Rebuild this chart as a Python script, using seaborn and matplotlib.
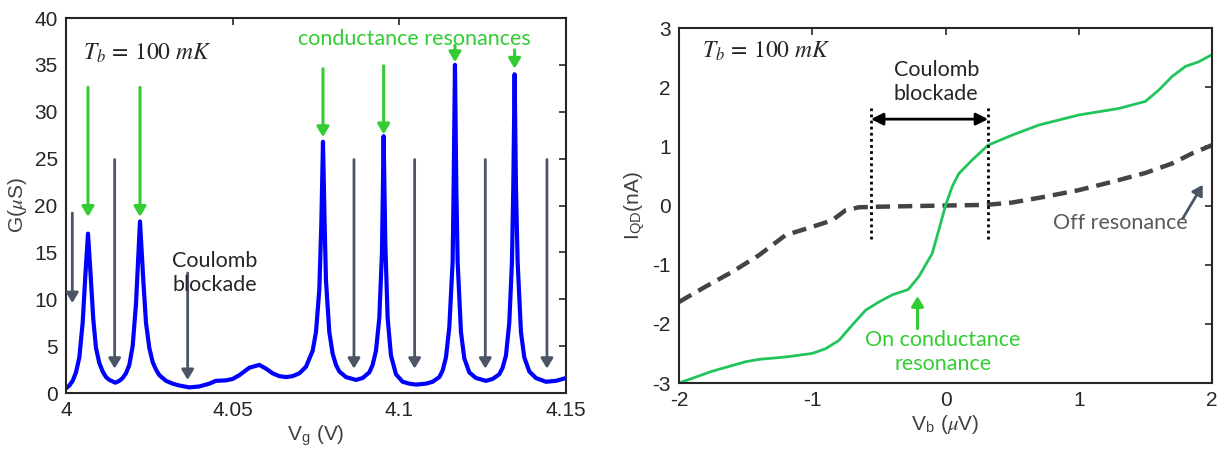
import matplotlib
matplotlib.use("Agg")
import matplotlib.pyplot as plt
import seaborn as sns
import pandas as pd

# left panel: conductance vs gate voltage
vg = [4.000, 4.001, 4.002, 4.003, 4.004, 4.005, 4.0058, 4.0066, 4.0074, 4.0082,
      4.009, 4.010, 4.011, 4.012, 4.013, 4.0148, 4.016, 4.017, 4.018, 4.019,
      4.020, 4.021, 4.0222, 4.0232, 4.024, 4.025, 4.026, 4.027, 4.028, 4.030,
      4.032, 4.034, 4.037, 4.040, 4.043, 4.045, 4.048, 4.050, 4.052, 4.055,
      4.058, 4.060, 4.062, 4.064, 4.066, 4.068, 4.070, 4.072, 4.074, 4.075,
      4.076, 4.0766, 4.0771, 4.0776, 4.078, 4.079, 4.080, 4.081, 4.082, 4.084,
      4.087, 4.089, 4.091, 4.092, 4.093, 4.094, 4.0948, 4.0953, 4.0958, 4.0965,
      4.0975, 4.099, 4.101, 4.103, 4.105, 4.108, 4.110, 4.112, 4.113, 4.114,
      4.115, 4.116, 4.1163, 4.1167, 4.1171, 4.1175, 4.1185, 4.1195, 4.121, 4.123,
      4.126, 4.128, 4.130, 4.131, 4.132, 4.133, 4.1338, 4.1342, 4.1346, 4.135,
      4.1355, 4.1365, 4.1375, 4.139, 4.141, 4.144, 4.147, 4.150]
g_us = [0.5, 0.8, 1.3, 2.2, 3.8, 7.5, 12.5, 17.0, 12.5, 7.8,
        4.8, 3.2, 2.3, 1.7, 1.4, 1.1, 1.3, 1.6, 2.1, 3.0,
        5.0, 9.5, 18.3, 12.0, 7.5, 4.8, 3.3, 2.5, 1.9, 1.3,
        1.0, 0.8, 0.6, 0.7, 1.0, 1.3, 1.35, 1.5, 1.9, 2.7,
        3.0, 2.6, 2.1, 1.8, 1.7, 1.8, 2.1, 2.8, 4.5, 6.5,
        11.0, 18.0, 26.8, 18.0, 12.0, 6.5, 4.2, 3.0, 2.3, 1.7,
        1.4, 1.6, 2.2, 3.0, 4.5, 8.0, 15.0, 27.4, 16.0, 8.0,
        4.0, 2.0, 1.2, 1.0, 0.9, 1.0, 1.2, 1.7, 2.4, 3.8,
        7.0, 14.0, 22.0, 35.0, 22.0, 14.0, 6.5, 3.7, 2.2, 1.6,
        1.3, 1.5, 2.0, 2.7, 4.0, 7.5, 14.0, 22.0, 34.0, 22.0,
        14.0, 6.5, 3.8, 2.3, 1.6, 1.2, 1.3, 1.6]

# arrows on the left panel: x, start, tip
res_x = [4.0066, 4.0222, 4.0771, 4.0953, 4.1167, 4.1346]
res_top = [32.6, 32.6, 34.6, 34.9, 37.1, 36.6]
res_tip = [18.8, 18.8, 27.3, 27.6, 35.3, 34.6]
cb_x = [4.0019, 4.0146, 4.0365, 4.0864, 4.1046, 4.1258, 4.1443]
cb_top = [19.2, 24.9, 12.8, 24.9, 24.9, 24.9, 24.9]
cb_tip = [9.6, 2.6, 1.4, 2.6, 2.6, 2.6, 2.6]

# right panel: I-V curves
vb_on = [-2.0, -1.75, -1.5, -1.4, -1.2, -1.0, -0.9, -0.8, -0.7, -0.6, -0.5, -0.4,
         -0.28, -0.2, -0.1, -0.05, 0.0, 0.05, 0.1, 0.2, 0.32, 0.5, 0.7, 1.0,
         1.3, 1.5, 1.6, 1.7, 1.8, 1.9, 2.0]
i_on = [-3.0, -2.8, -2.64, -2.6, -2.56, -2.5, -2.42, -2.28, -2.02, -1.77, -1.63, -1.51,
        -1.42, -1.2, -0.81, -0.41, 0.0, 0.32, 0.54, 0.77, 1.02, 1.19, 1.36, 1.53,
        1.64, 1.76, 1.95, 2.18, 2.35, 2.43, 2.55]
vb_off = [-2.0, -1.8, -1.6, -1.4, -1.2, -1.0, -0.85, -0.75, -0.65, -0.5, 0.0, 0.3,
          0.5, 0.75, 1.0, 1.25, 1.5, 1.7, 1.85, 2.0]
i_off = [-1.63, -1.37, -1.12, -0.84, -0.5, -0.36, -0.25, -0.08, -0.03, -0.02, 0.0, 0.01,
         0.05, 0.15, 0.26, 0.4, 0.55, 0.71, 0.88, 1.02]

sns.set_theme(style="white")
plt.rcParams["font.family"] = ["Liberation Sans", "DejaVu Sans"]
plt.rcParams["mathtext.fontset"] = "stix"
plt.rcParams["axes.unicode_minus"] = False
note_font = ["Lato", "DejaVu Sans"]
green_arrow = "#33cc33"
green_line = "#22c45c"
slate = "#4b5566"

fig = plt.figure(figsize=(12.29, 4.57), dpi=100)
ax1 = fig.add_axes([0.0537, 0.140, 0.4068, 0.8206])
ax2 = fig.add_axes([0.5525, 0.1619, 0.4337, 0.7768])

# ---- left panel
sns.lineplot(x=vg, y=g_us, ax=ax1, color="#0000ff", lw=3, estimator=None, sort=False)
ax1.set_xlim(4.0, 4.15)
ax1.set_ylim(0, 40)
ax1.set_xticks([4.0, 4.05, 4.1, 4.15])
ax1.set_xticklabels(["4", "4.05", "4.1", "4.15"])
ax1.set_yticks(range(0, 41, 5))
ax1.set_xlabel(r"V$_\mathregular{g}$ (V)", fontsize=15, color="#404040", labelpad=2)
ax1.set_ylabel(r"G($\mu$S)", fontsize=15, color="#404040", labelpad=4)

for x, y0, y1 in zip(res_x, res_top, res_tip):
    ax1.annotate("", xy=(x, y1), xytext=(x, y0),
                 arrowprops=dict(arrowstyle="-|>,head_width=0.3,head_length=0.5",
                                 color=green_arrow, lw=2.2, shrinkA=0, shrinkB=0))
for x, y0, y1 in zip(cb_x, cb_top, cb_tip):
    ax1.annotate("", xy=(x, y1), xytext=(x, y0),
                 arrowprops=dict(arrowstyle="-|>,head_width=0.3,head_length=0.5",
                                 color=slate, lw=2.0, shrinkA=0, shrinkB=0))
ax1.text(4.005, 36.2, r"$T_b\,=\,100\ mK$", fontsize=17, ha="left", va="center")
ax1.text(4.1044, 37.8, "conductance resonances", fontsize=15.5, color=green_arrow,
         ha="center", va="center", family=note_font)
ax1.text(4.0445, 12.8, "Coulomb\nblockade", fontsize=15.5, ha="center", va="center",
         family=note_font, linespacing=1.25)

# ---- right panel
sns.lineplot(x=vb_off, y=i_off, ax=ax2, color="#444444", lw=3.2, estimator=None,
             sort=False, linestyle=(0, (3.2, 1.8)))
sns.lineplot(x=vb_on, y=i_on, ax=ax2, color=green_line, lw=2.0, estimator=None, sort=False)
ax2.set_xlim(-2, 2)
ax2.set_ylim(-3, 3)
ax2.set_xticks(range(-2, 3))
ax2.set_yticks(range(-3, 4))
ax2.set_xlabel(r"V$_\mathregular{b}$ ($\mu$V)", fontsize=15, color="#404040", labelpad=2)
ax2.set_ylabel(r"I$_\mathregular{QD}$(nA)", fontsize=15, color="#404040", labelpad=4)

for x in (-0.56, 0.32):
    ax2.plot([x, x], [-0.56, 1.70], color="black", lw=2, linestyle=(0, (1, 1.2)))
ax2.annotate("", xy=(0.32, 1.46), xytext=(-0.56, 1.46),
             arrowprops=dict(arrowstyle="<|-|>,head_width=0.3,head_length=0.6",
                             color="black", lw=2, shrinkA=0, shrinkB=0))
ax2.text(-0.07, 2.08, "Coulomb\nblockade", fontsize=15.5, ha="center", va="center",
         family=note_font, linespacing=1.25)
ax2.text(-1.83, 2.6, r"$T_b\,=\,100\ mK$", fontsize=17, ha="left", va="center")
ax2.text(-0.02, -2.48, "On conductance\nresonance", fontsize=15.5, ha="center",
         va="center", color=green_arrow, family=note_font, linespacing=1.25)
ax2.annotate("", xy=(-0.21, -1.53), xytext=(-0.21, -2.08),
             arrowprops=dict(arrowstyle="-|>,head_width=0.3,head_length=0.5",
                             color=green_arrow, lw=2.2, shrinkA=0, shrinkB=0))
ax2.text(1.31, -0.3, "Off resonance", fontsize=15.5, ha="center", va="center",
         color="#595959", family=note_font)
ax2.annotate("", xy=(1.93, 0.35), xytext=(1.78, -0.22),
             arrowprops=dict(arrowstyle="-|>,head_width=0.3,head_length=0.5",
                             color=slate, lw=2.0, shrinkA=0, shrinkB=0))

for ax in (ax1, ax2):
    ax.tick_params(direction="in", top=True, right=True, length=5, width=1.2,
                   labelsize=15, colors="#262626", pad=6)
    for s in ax.spines.values():
        s.set_color("#262626")
        s.set_linewidth(1.5)

fig.savefig("out.png", dpi=100)
